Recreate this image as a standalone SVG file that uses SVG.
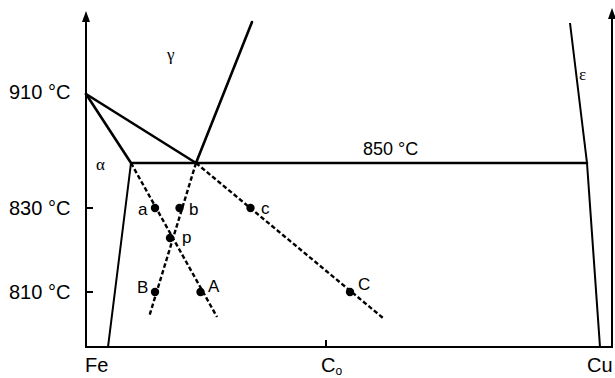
<svg xmlns="http://www.w3.org/2000/svg" width="615" height="378" viewBox="0 0 615 378">
<style>
.ax{stroke:#000;stroke-width:2;fill:none}
.ph{stroke:#000;stroke-width:2.6;fill:none;stroke-linecap:round;stroke-linejoin:round}
.th{stroke:#000;stroke-width:2;fill:none}
.ds{stroke:#000;stroke-width:2.4;fill:none;stroke-dasharray:4.5 2.5}
.t{font-family:"Liberation Sans",Arial,sans-serif;fill:#000}
.g{font-family:"Liberation Serif","DejaVu Serif",serif;fill:#000;font-size:17px}
.dot{fill:#000}
</style>
<rect width="615" height="378" fill="#fff"/>
<g id="axes">
<path class="ax" d="M86,20 V347 H612 V17"/>
<path d="M86,11 L82,22 L90,22 Z" fill="#000"/>
<path d="M612,8 L608,19 L616,19 Z" fill="#000"/>
<path class="ax" d="M86,208 H93 M86,292 H93 M326,340 V347"/>
</g>
<g id="labels-axes" class="t">
<text x="9" y="99" font-size="20">910 °C</text>
<text x="9" y="215" font-size="20">830 °C</text>
<text x="9" y="299" font-size="20">810 °C</text>
<text x="85" y="372" font-size="20">Fe</text>
<text x="321" y="372" font-size="20">C<tspan font-size="12" dy="3">o</tspan></text>
<text x="587" y="372" font-size="20">Cu</text>
<text x="363" y="155" font-size="18">850 °C</text>
</g>
<g id="phase-boundaries">
<path class="ph" d="M86,94 L131,163 L587,163"/>
<path class="ph" d="M86,94 L196,163 L252,22"/>
<path class="th" d="M131,163 L108,347"/>
<path class="th" d="M570,23 L587,163 L600,347"/>
</g>
<g id="phase-labels">
<text class="g" x="167" y="60">γ</text>
<text class="g" x="96" y="170">α</text>
<text class="g" x="579" y="80">ε</text>
</g>
<g id="connectors">
<path class="ds" d="M131,163 L217,317"/>
<path class="ds" d="M196,163 L149,317"/>
<path class="ds" d="M196,163 L383,318"/>
</g>
<g id="point-a"><circle class="dot" cx="155" cy="208" r="4.2"/><text class="t" x="138" y="215" font-size="17">a</text></g>
<g id="point-b"><circle class="dot" cx="179.5" cy="208" r="4.2"/><text class="t" x="189" y="215" font-size="17">b</text></g>
<g id="point-c"><circle class="dot" cx="250.5" cy="208" r="4.2"/><text class="t" x="261" y="214" font-size="17">c</text></g>
<g id="point-p"><circle class="dot" cx="170" cy="238" r="4.2"/><text class="t" x="182" y="243" font-size="17">p</text></g>
<g id="point-B"><circle class="dot" cx="155" cy="292" r="4.2"/><text class="t" x="137" y="293" font-size="17">B</text></g>
<g id="point-A"><circle class="dot" cx="200.5" cy="292" r="4.2"/><text class="t" x="208" y="292" font-size="17">A</text></g>
<g id="point-C"><circle class="dot" cx="350" cy="292" r="4.2"/><text class="t" x="358" y="290" font-size="17">C</text></g>
</svg>
